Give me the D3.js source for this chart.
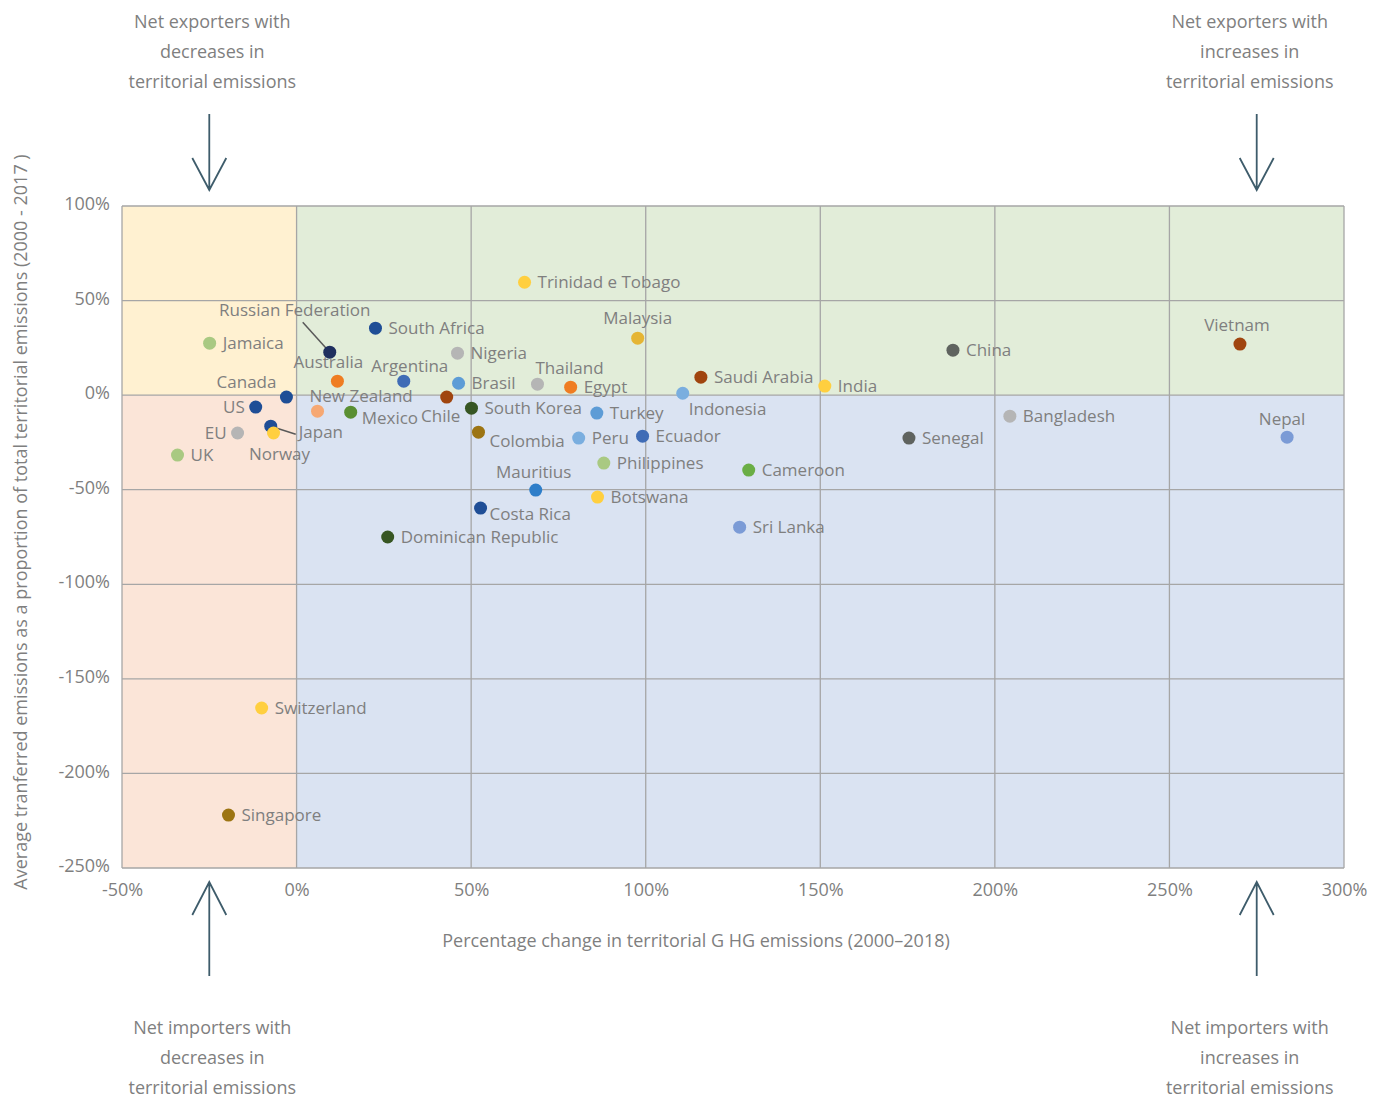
<!DOCTYPE html>
<html>
<head>
<meta charset="utf-8">
<script src="https://cdn.jsdelivr.net/npm/d3@7.9.0/dist/d3.min.js"></script>
<style>
  body { margin: 0; background: #fff; }
  svg text { font-family: "Open Sans", "Noto Sans", sans-serif; fill: #7f7f7f; }
</style>
</head>
<body>
<svg id="chart" width="1386" height="1100"></svg>
<script>
// data
const countries = ["Trinidad e Tobago", "Russian Federation", "South Africa", "Jamaica", "Nigeria", "Malaysia",
  "Vietnam", "China", "Australia", "Argentina", "Brasil", "Thailand", "Egypt", "Saudi Arabia", "India",
  "Canada", "Chile", "Indonesia", "US", "New Zealand", "Mexico", "South Korea", "Turkey", "Bangladesh",
  "Japan", "Norway", "EU", "Colombia", "Peru", "Ecuador", "Senegal", "Nepal", "UK", "Philippines",
  "Cameroon", "Mauritius", "Botswana", "Costa Rica", "Sri Lanka", "Dominican Republic", "Switzerland", "Singapore"];
const ghgChange = [65.3, 9.5, 22.6, -24.9, 46.1, 97.7,
  270.2, 188, 11.7, 30.7, 46.4, 69, 78.5, 115.8, 151.3,
  -2.9, 43, 110.6, -11.7, 6, 15.5, 50.1, 86, 204.3,
  -7.4, -6.6, -16.9, 52.1, 80.8, 99.1, 175.4, 283.7, -34.1, 88,
  129.5, 68.5, 86.2, 52.7, 126.9, 26.1, -10, -19.5];
const transferred = [59.7, 22.7, 35.4, 27.5, 22.2, 30.1,
  27, 23.8, 7.4, 7.4, 6.3, 5.8, 4.2, 9.5, 4.8,
  -1, -1, 1, -6.3, -8.5, -9, -6.9, -9.5, -11.1,
  -16.4, -20, -20, -19.6, -22.7, -21.7, -22.7, -22.2, -31.7, -35.9,
  -39.6, -50.2, -53.9, -59.7, -69.8, -75, -165.4, -222];
const dotColors = ["#ffcf3f", "#1f2f5f", "#1f4e96", "#a9c982", "#b5b5b5", "#e5b534",
  "#a0450f", "#5f635f", "#ef7d22", "#3f6cb6", "#5d9cd6", "#b5b5b5", "#ef7d22", "#a0450f", "#ffcf3f",
  "#1f4e96", "#a0450f", "#7aaedf", "#1f4e96", "#f6a873", "#5a8f32", "#375623", "#5d9cd6", "#b5b5b5",
  "#1f4e96", "#ffcf3f", "#b5b5b5", "#9c7412", "#7aaedf", "#3f6cb6", "#5f635f", "#7b9bd6", "#a9c982", "#a9c982",
  "#6aae45", "#2e7ec9", "#ffcf3f", "#1f4e96", "#7b9bd6", "#375623", "#ffcf3f", "#9c7412"];
const xTicks = [-50, 0, 50, 100, 150, 200, 250, 300];
const yTicks = [100, 50, 0, -50, -100, -150, -200, -250];

// label placement (px offsets from dot), default: right of the dot
const labelPlace = {
  "Russian Federation": { dx: -35, dy: -42, anchor: "middle", leader: [-27, -30] },
  "Malaysia": { dx: 0, dy: -20, anchor: "middle" },
  "Vietnam": { dx: -3, dy: -19, anchor: "middle" },
  "Australia": { dx: -9, dy: -19, anchor: "middle" },
  "Argentina": { dx: 6, dy: -15, anchor: "middle" },
  "Thailand": { dx: -2, dy: -16, anchor: "start" },
  "Canada": { dx: -10, dy: -15, anchor: "end" },
  "Chile": { dx: -6, dy: 19, anchor: "middle" },
  "Indonesia": { dx: 6, dy: 16, anchor: "start" },
  "US": { dx: -11, dy: 0, anchor: "end" },
  "New Zealand": { dx: -8, dy: -15, anchor: "start" },
  "Mexico": { dx: 11, dy: 6, anchor: "start" },
  "Japan": { dx: 28, dy: 6, anchor: "start", leader: [25, 8] },
  "Norway": { dx: 6, dy: 21, anchor: "middle" },
  "EU": { dx: -11, dy: 0, anchor: "end" },
  "Colombia": { dx: 11, dy: 9, anchor: "start" },
  "Nepal": { dx: -5, dy: -18, anchor: "middle" },
  "Mauritius": { dx: -2, dy: -18, anchor: "middle" },
  "Costa Rica": { dx: 9, dy: 6, anchor: "start" }
};

const points = countries.map((c, i) => ({ name: c, x: ghgChange[i], y: transferred[i], color: dotColors[i] }));

const svg = d3.select("#chart");
const x = d3.scaleLinear().domain([-50, 300]).range([122, 1344]);
const y = d3.scaleLinear().domain([-250, 100]).range([868, 206]);

// quadrant backgrounds
const quads = [
  { x0: -50, x1: 0, y0: 0, y1: 100, fill: "#fff1d1" },
  { x0: 0, x1: 300, y0: 0, y1: 100, fill: "#e2edd9" },
  { x0: -50, x1: 0, y0: -250, y1: 0, fill: "#fbe5d8" },
  { x0: 0, x1: 300, y0: -250, y1: 0, fill: "#dae3f2" }
];
svg.append("g").selectAll("rect").data(quads).join("rect")
  .attr("x", d => x(d.x0)).attr("y", d => y(d.y1))
  .attr("width", d => x(d.x1) - x(d.x0)).attr("height", d => y(d.y0) - y(d.y1))
  .attr("fill", d => d.fill);

// grid
const grid = svg.append("g").attr("stroke", "#a6a6a6").attr("stroke-width", 1.3);
grid.selectAll(".vx").data(xTicks).join("line")
  .attr("x1", d => x(d)).attr("x2", d => x(d)).attr("y1", y(100)).attr("y2", y(-250));
grid.selectAll(".hy").data(yTicks).join("line")
  .attr("x1", x(-50)).attr("x2", x(300)).attr("y1", d => y(d)).attr("y2", d => y(d));

// axes
const xAxis = svg.append("g").attr("transform", `translate(0,${y(-250)})`)
  .call(d3.axisBottom(x).tickValues(xTicks).tickSize(0).tickPadding(15).tickFormat(d => d + "%"));
const yAxis = svg.append("g").attr("transform", `translate(${x(-50)},0)`)
  .call(d3.axisLeft(y).tickValues(yTicks).tickSize(0).tickPadding(12).tickFormat(d => d + "%"));
[xAxis, yAxis].forEach(a => {
  a.select(".domain").remove();
  a.selectAll("text").attr("font-size", 18).style("font-family", "'Open Sans', 'Noto Sans', sans-serif").attr("fill", "#7f7f7f");
});
yAxis.selectAll("text").attr("dy", "0.2em");

// axis titles
svg.append("text").attr("x", 696).attr("y", 947).attr("text-anchor", "middle").attr("font-size", 18)
  .text("Percentage change in territorial G HG emissions (2000–2018)");
svg.append("text").attr("transform", "translate(27,522) rotate(-90)").attr("text-anchor", "middle").attr("font-size", 18)
  .text("Average tranferred emissions as a proportion of total territorial emissions (2000 - 2017 )");

// leader lines
svg.append("g").selectAll("line").data(points.filter(p => labelPlace[p.name] && labelPlace[p.name].leader)).join("line")
  .attr("x1", d => x(d.x)).attr("y1", d => y(d.y))
  .attr("x2", d => x(d.x) + labelPlace[d.name].leader[0]).attr("y2", d => y(d.y) + labelPlace[d.name].leader[1])
  .attr("stroke", "#595959").attr("stroke-width", 1.5);

// dots
svg.append("g").selectAll("circle").data(points).join("circle")
  .attr("cx", d => x(d.x)).attr("cy", d => y(d.y)).attr("r", 6.5).attr("fill", d => d.color);

// labels
svg.append("g").selectAll("text").data(points).join("text")
  .attr("x", d => x(d.x) + (labelPlace[d.name] ? labelPlace[d.name].dx : 13))
  .attr("y", d => y(d.y) + (labelPlace[d.name] ? labelPlace[d.name].dy : 0))
  .attr("dy", "0.35em")
  .attr("text-anchor", d => labelPlace[d.name] ? labelPlace[d.name].anchor : "start")
  .attr("font-size", 17)
  .text(d => d.name);

// quadrant annotations with arrows
const notes = [
  { at: -25, shift: 3, lines: ["Net exporters with", "decreases in", "territorial emissions"], top: true },
  { at: 275, shift: -7, lines: ["Net exporters with", "increases in", "territorial emissions"], top: true },
  { at: -25, shift: 3, lines: ["Net importers with", "decreases in", "territorial emissions"], top: false },
  { at: 275, shift: -7, lines: ["Net importers with", "increases in", "territorial emissions"], top: false }
];
notes.forEach(n => {
  const ax = x(n.at);
  const g = svg.append("g");
  const t = g.append("text").attr("text-anchor", "middle").attr("font-size", 18);
  const y0 = n.top ? 28 : 1034;
  n.lines.forEach((l, i) => t.append("tspan").attr("x", ax + n.shift).attr("y", y0 + i * 30).text(l));
  const tipY = n.top ? 190 : 882, tailY = n.top ? 114 : 976, wingY = n.top ? 158 : 915;
  g.append("path")
    .attr("d", `M${ax},${tailY}L${ax},${tipY}M${ax - 17},${wingY}L${ax},${tipY}L${ax + 17},${wingY}`)
    .attr("fill", "none").attr("stroke", "#3e5c6b").attr("stroke-width", 1.8);
});
</script>
</body>
</html>
